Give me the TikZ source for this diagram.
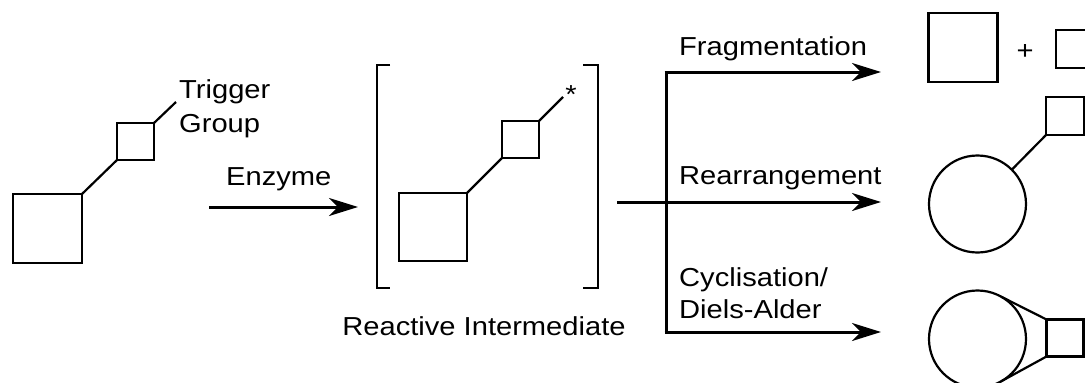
\documentclass[tikz,border=0pt]{standalone}
\usepackage{fontspec}
\setmainfont[FakeStretch=1.12]{Liberation Sans}
\usetikzlibrary{arrows.meta}
\begin{document}
\begin{tikzpicture}[x=1pt,y=-1pt,
  sq/.style={draw, line width=2.2pt, rectangle, inner sep=0pt, outer sep=0pt, minimum size=#1},
  circ/.style={draw, line width=2.2pt, circle, inner sep=0pt, outer sep=0pt, minimum size=#1},
  txt/.style={font=\fontsize{26}{31}\selectfont, inner sep=0pt},
  lbl/.style={txt, anchor=base west},
  rx/.style={line width=3pt, -{Stealth[length=29pt,width=18pt,inset=9pt]}},
  brk/.style={line width=2.6pt},
  bond/.style={line width=2.2pt}]
\useasboundingbox (0,0) rectangle (1085,383);
\clip (0,0) rectangle (1085,383);
% starting material
\node[sq=69pt] (a1) at (47.5,228.5) {};
\node[sq=37pt] (a2) at (135.5,141.5) {};
\coordinate (atrig) at (176,102);
\draw[bond] (a1.north east) -- (a2.south west);
\draw[bond] (a2.north east) -- (atrig);
\node[lbl] (trig1) at (179,98) {Trigger};
\node[lbl] (trig2) at (179,132) {Group};
% enzyme arrow
\coordinate (e0) at (209,207);
\coordinate (e1) at (358,207);
\draw[rx] (e0) -- (e1);
\node[lbl] (enz) at (226,185) {Enzyme};
% reactive intermediate
\coordinate (lb1) at (390,65);
\coordinate (lb2) at (377,65);
\coordinate (lb3) at (377,288);
\coordinate (lb4) at (390,288);
\coordinate (rb1) at (583,65);
\coordinate (rb2) at (598,65);
\coordinate (rb3) at (598,288);
\coordinate (rb4) at (583,288);
\draw[brk] (lb1) -- (lb2) -- (lb3) -- (lb4);
\draw[brk] (rb1) -- (rb2) -- (rb3) -- (rb4);
\node[sq=68pt] (b1) at (433,227) {};
\node[sq=37pt] (b2) at (520.5,139.5) {};
\coordinate (bstar) at (563,97);
\draw[bond] (b1.north east) -- (b2.south west);
\draw[bond] (b2.north east) -- (bstar);
\node[txt, anchor=base] (star) at (571,103) {*};
\node[txt, anchor=base] (ri) at (484,335) {Reactive Intermediate};
% branching arrows
\coordinate (m0) at (617,202);
\coordinate (vtop) at (666,72);
\coordinate (vbot) at (666,332);
\coordinate (fa) at (881,72);
\coordinate (ra) at (881,202);
\coordinate (ca) at (881,332);
\draw[line width=3pt] (vtop) -- (vbot);
\draw[rx] (m0) -- (ra);
\draw[rx] ([xshift=-1.5pt]vtop) -- (fa);
\draw[rx] ([xshift=-1.5pt]vbot) -- (ca);
\node[lbl] (frag) at (679,55) {Fragmentation};
\node[lbl] (rear) at (679,184) {Rearrangement};
\node[lbl] (cyc1) at (679,286) {Cyclisation/};
\node[lbl] (cyc2) at (679,318) {Diels-Alder};
% fragmentation products
\node[sq=69pt] (c1) at (963,47.5) {};
\node[txt] (plus) at (1025,52) {+};
\node[sq=38pt] (c2) at (1075,49) {};
% rearrangement product
\node[circ=97pt] (d1) at (977.5,204) {};
\node[sq=38pt] (d2) at (1065,116) {};
\draw[bond] (d1.north east) -- (d2.south west);
% cyclisation product
\node[circ=97pt] (f1) at (977.5,339) {};
\node[sq=37pt] (f2) at (1065,338) {};
\draw[bond] (f1.61) -- (f2.north west);
\draw[bond] (f1.-61) -- (f2.south west);
\end{tikzpicture}
\end{document}
